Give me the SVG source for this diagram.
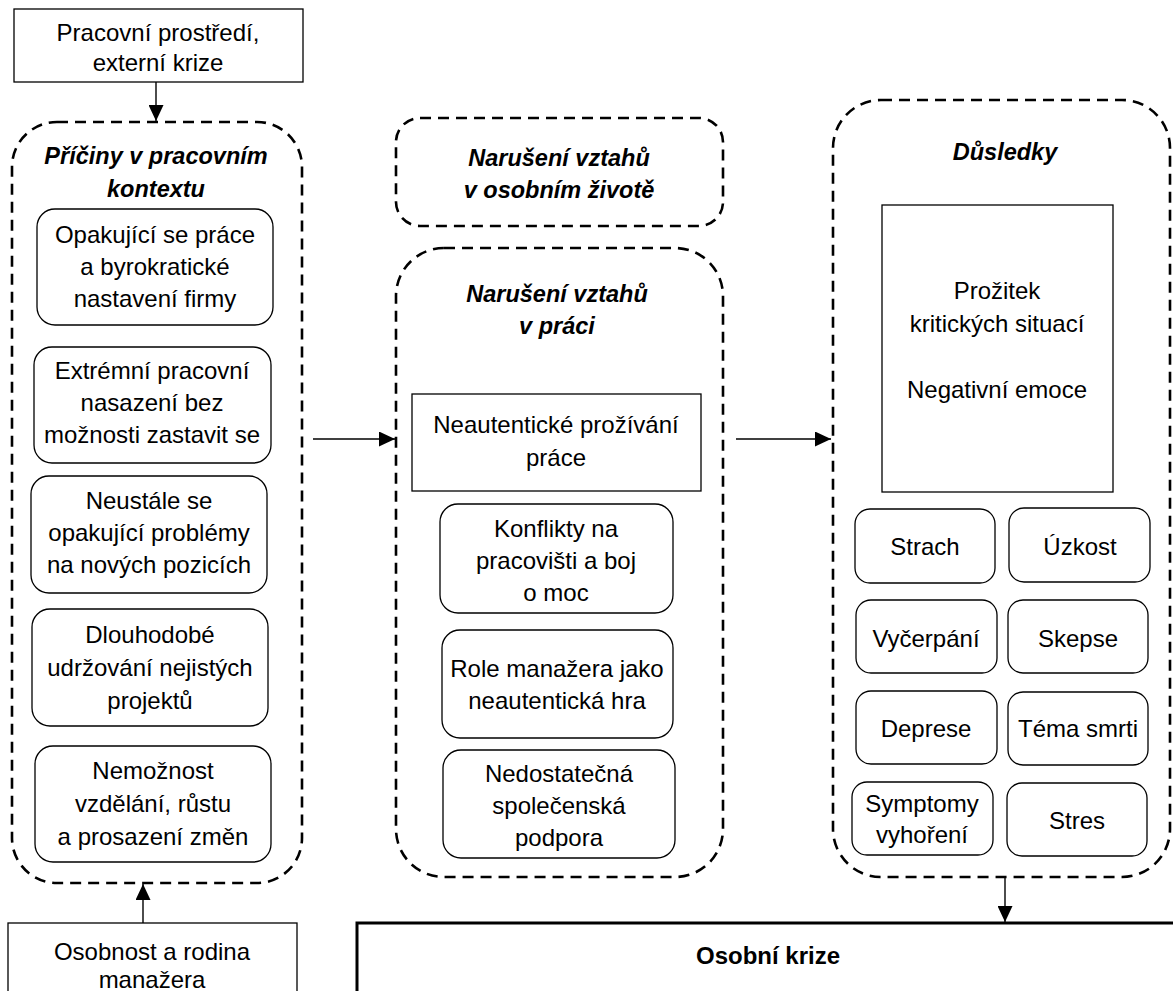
<svg xmlns="http://www.w3.org/2000/svg" width="1173" height="991" viewBox="0 0 1173 991">
  <defs>
    <marker id="arrow" markerUnits="userSpaceOnUse" markerWidth="16" markerHeight="15" refX="16" refY="7.5" orient="auto">
      <path d="M0,0 L16,7.5 L0,15 Z" fill="#000"/>
    </marker>
    <style>
      .group { fill: none; stroke: #000; stroke-width: 2.6; stroke-dasharray: 11 7; }
      .box { fill: #fff; stroke: #000; stroke-width: 1.3; }
      .main { fill: #fff; stroke: #000; stroke-width: 3; }
      .conn { fill: none; stroke: #000; stroke-width: 1.4; marker-end: url(#arrow); }
      text { font-family: "Liberation Sans", Arial, sans-serif; font-size: 24px; fill: #000; text-anchor: middle; }
      .title { font-weight: bold; font-style: italic; font-size: 23.5px; }
      .head { font-weight: bold; font-size: 24px; }
    </style>
  </defs>
  <rect width="1173" height="991" fill="#fff"/>

  <!-- external inputs -->
  <g id="n-pracovni-prostredi">
    <rect class="box" x="14" y="9" width="289" height="73"/>
    <text x="158" y="41">Pracovní prostředí,</text>
    <text x="158" y="71">externí krize</text>
  </g>
  <g id="n-osobnost-rodina">
    <rect class="box" x="8" y="923" width="289" height="90"/>
    <text x="152" y="960">Osobnost a rodina</text>
    <text x="152" y="988">manažera</text>
  </g>

  <!-- left column: causes -->
  <g id="n-priciny">
    <rect class="group" x="12" y="122" width="290" height="761" rx="45"/>
    <text class="title" x="156" y="164">Příčiny v pracovním</text>
    <text class="title" x="156" y="197">kontextu</text>
  </g>
  <g id="n-opakujici-prace">
    <rect class="box" x="37" y="209" width="236" height="116" rx="18"/>
    <text x="155" y="243">Opakující se práce</text>
    <text x="155" y="275">a byrokratické</text>
    <text x="155" y="307">nastavení firmy</text>
  </g>
  <g id="n-extremni-nasazeni">
    <rect class="box" x="34" y="347" width="237" height="116" rx="18"/>
    <text x="152" y="379">Extrémní pracovní</text>
    <text x="152" y="411">nasazení bez</text>
    <text x="152" y="443">možnosti zastavit se</text>
  </g>
  <g id="n-opakujici-problemy">
    <rect class="box" x="31" y="476" width="236" height="117" rx="18"/>
    <text x="149" y="509">Neustále se</text>
    <text x="149" y="541">opakující problémy</text>
    <text x="149" y="573">na nových pozicích</text>
  </g>
  <g id="n-nejiste-projekty">
    <rect class="box" x="32" y="609" width="236" height="117" rx="18"/>
    <text x="150" y="643">Dlouhodobé</text>
    <text x="150" y="676">udržování nejistých</text>
    <text x="150" y="709">projektů</text>
  </g>
  <g id="n-nemoznost-rustu">
    <rect class="box" x="35" y="746" width="236" height="116" rx="18"/>
    <text x="153" y="779">Nemožnost</text>
    <text x="153" y="812">vzdělání, růstu</text>
    <text x="153" y="845">a prosazení změn</text>
  </g>

  <!-- middle column: disrupted relationships -->
  <g id="n-vztahy-osobni">
    <rect class="group" x="396" y="118" width="327" height="108" rx="24"/>
    <text class="title" x="559" y="166">Narušení vztahů</text>
    <text class="title" x="559" y="198">v osobním životě</text>
  </g>
  <g id="n-vztahy-prace">
    <rect class="group" x="396" y="248" width="327" height="629" rx="48"/>
    <text class="title" x="557" y="302">Narušení vztahů</text>
    <text class="title" x="557" y="334">v práci</text>
  </g>
  <g id="n-neautenticke-prozivani">
    <rect class="box" x="412" y="394" width="289" height="97"/>
    <text x="556" y="433">Neautentické prožívání</text>
    <text x="556" y="466">práce</text>
  </g>
  <g id="n-konflikty">
    <rect class="box" x="440" y="504" width="233" height="109" rx="18"/>
    <text x="556" y="537">Konflikty na</text>
    <text x="556" y="569">pracovišti a boj</text>
    <text x="556" y="601">o moc</text>
  </g>
  <g id="n-role-manazera">
    <rect class="box" x="442" y="630" width="231" height="108" rx="18"/>
    <text x="557" y="677">Role manažera jako</text>
    <text x="557" y="709">neautentická hra</text>
  </g>
  <g id="n-spolecenska-podpora">
    <rect class="box" x="443" y="750" width="232" height="108" rx="18"/>
    <text x="559" y="782">Nedostatečná</text>
    <text x="559" y="814">společenská</text>
    <text x="559" y="846">podpora</text>
  </g>

  <!-- right column: consequences -->
  <g id="n-dusledky">
    <rect class="group" x="833" y="100" width="337" height="777" rx="48"/>
    <text class="title" x="1005" y="160">Důsledky</text>
  </g>
  <g id="n-prozitek">
    <rect class="box" x="882" y="205" width="231" height="287"/>
    <text x="997" y="299">Prožitek</text>
    <text x="997" y="332">kritických situací</text>
    <text x="997" y="398">Negativní emoce</text>
  </g>
  <g id="n-strach">
    <rect class="box" x="855" y="509" width="140" height="74" rx="15"/>
    <text x="925" y="555">Strach</text>
  </g>
  <g id="n-uzkost">
    <rect class="box" x="1009" y="508" width="141" height="74" rx="15"/>
    <text x="1080" y="555">Úzkost</text>
  </g>
  <g id="n-vycerpani">
    <rect class="box" x="856" y="600" width="141" height="73" rx="15"/>
    <text x="926" y="647">Vyčerpání</text>
  </g>
  <g id="n-skepse">
    <rect class="box" x="1008" y="600" width="140" height="73" rx="15"/>
    <text x="1078" y="647">Skepse</text>
  </g>
  <g id="n-deprese">
    <rect class="box" x="856" y="691" width="141" height="73" rx="15"/>
    <text x="926" y="737">Deprese</text>
  </g>
  <g id="n-tema-smrti">
    <rect class="box" x="1008" y="692" width="140" height="73" rx="15"/>
    <text x="1078" y="737">Téma smrti</text>
  </g>
  <g id="n-vyhoreni">
    <rect class="box" x="852" y="782" width="141" height="73" rx="15"/>
    <text x="922" y="812">Symptomy</text>
    <text x="922" y="843">vyhoření</text>
  </g>
  <g id="n-stres">
    <rect class="box" x="1007" y="783" width="140" height="73" rx="15"/>
    <text x="1077" y="829">Stres</text>
  </g>

  <!-- outcome -->
  <g id="n-osobni-krize">
    <rect class="main" x="357" y="923" width="840" height="100"/>
    <text class="head" x="768" y="964">Osobní krize</text>
  </g>

  <!-- connectors -->
  <g id="connectors">
    <path class="conn" d="M156,82 L156,121"/>
    <path class="conn" d="M143,923 L143,884"/>
    <path class="conn" d="M313,439 L395,439"/>
    <path class="conn" d="M736,439 L831,439"/>
    <path class="conn" d="M1005,878 L1005,922"/>
  </g>
</svg>
